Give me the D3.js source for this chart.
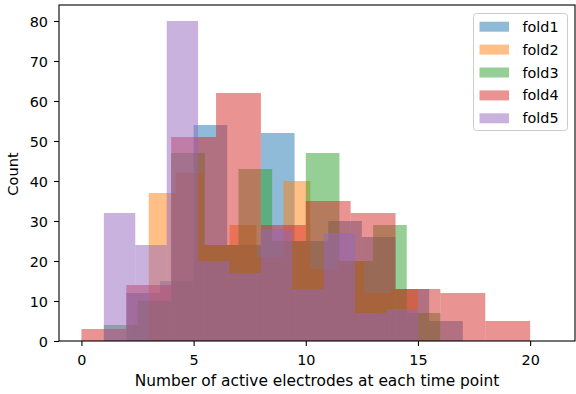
<!DOCTYPE html>
<html>
<head>
<meta charset="utf-8">
<script src="https://cdn.jsdelivr.net/npm/d3@7"></script>
<style>
  html, body { margin: 0; padding: 0; background: #fff; }
  svg { display: block; }
  text { font-family: "DejaVu Sans", sans-serif; fill: #000; }
</style>
</head>
<body>
<svg id="chart" width="576" height="394"></svg>
<script>
// ---- data ----
const seriesNames = ["fold1", "fold2", "fold3", "fold4", "fold5"];
const seriesColors = ["#1f77b4", "#ff7f0e", "#2ca02c", "#d62728", "#9467bd"];

const fold1Edges = [2, 3.5, 5, 6.5, 8, 9.5, 11, 12.5, 14, 15.5, 17];
const fold1Counts = [12, 15, 54, 24, 52, 25, 30, 26, 13, 5];

const fold2Edges = [3, 4.2, 5.4, 6.6, 7.8, 9, 10.2, 11.4, 12.6, 13.8, 15];
const fold2Counts = [37, 42, 24, 29, 21, 40, 18, 20, 12, 13];

const fold3Edges = [1, 2.5, 4, 5.5, 7, 8.5, 10, 11.5, 13, 14.5, 16];
const fold3Counts = [4, 10, 47, 24, 43, 25, 47, 20, 29, 7];

const fold4Edges = [0, 2, 4, 6, 8, 10, 12, 14, 16, 18, 20];
const fold4Counts = [3, 14, 51, 62, 29, 35, 32, 13, 12, 5];

const fold5Edges = [1, 2.4, 3.8, 5.2, 6.6, 8, 9.4, 10.8, 12.2, 13.6, 15];
const fold5Counts = [32, 24, 80, 20, 17, 28, 13, 27, 7, 8];

const xTicks = [0, 5, 10, 15, 20];
const yTicks = [0, 10, 20, 30, 40, 50, 60, 70, 80];
const xLabel = "Number of active electrodes at each time point";
const yLabel = "Count";

// ---- layout ----
const svg = d3.select("#chart");
const L = 59, R = 575, T = 5, B = 341;
const x = d3.scaleLinear().domain([-1, 22]).range([L, R]);
const y = d3.scaleLinear().domain([0, 84]).range([B, T]);

const folds = [
  [fold1Edges, fold1Counts],
  [fold2Edges, fold2Counts],
  [fold3Edges, fold3Counts],
  [fold4Edges, fold4Counts],
  [fold5Edges, fold5Counts]
];

const plot = svg.append("g");
folds.forEach(([edges, counts], k) => {
  const bins = counts.map((c, i) => ({ x0: edges[i], x1: edges[i + 1], c }));
  plot.append("g")
    .selectAll("rect")
    .data(bins)
    .join("rect")
    .attr("x", d => x(d.x0))
    .attr("width", d => x(d.x1) - x(d.x0))
    .attr("y", d => y(d.c))
    .attr("height", d => y(0) - y(d.c))
    .attr("fill", seriesColors[k])
    .attr("fill-opacity", 0.5);
});

// ---- axes ----
const fs = 14.4;
const xAxis = d3.axisBottom(x).tickValues(xTicks).tickSize(4.9).tickPadding(4).tickFormat(d3.format("d"));
const yAxis = d3.axisLeft(y).tickValues(yTicks).tickSize(4.9).tickPadding(4).tickFormat(d3.format("d"));

const gx = svg.append("g").attr("transform", `translate(0,${B})`).call(xAxis);
const gy = svg.append("g").attr("transform", `translate(${L},0)`).call(yAxis);
[gx, gy].forEach(g => {
  g.select(".domain").remove();
  g.selectAll(".tick line").attr("stroke", "#000").attr("stroke-width", 1.1);
  g.selectAll(".tick text").attr("font-size", fs).attr("font-family", "DejaVu Sans").attr("fill", "#000");
});
gx.selectAll(".tick text").attr("dy", null).attr("y", 24);
gy.selectAll(".tick text").attr("dy", null).attr("y", 5).attr("x", -11);

// spines
svg.append("rect")
  .attr("x", L).attr("y", T).attr("width", R - L).attr("height", B - T)
  .attr("fill", "none").attr("stroke", "#000").attr("stroke-width", 1.1);

// labels
svg.append("text")
  .attr("x", (L + R) / 2).attr("y", 386)
  .attr("text-anchor", "middle").attr("font-size", 15.4)
  .text(xLabel);
svg.append("text")
  .attr("transform", `translate(18,${(T + B) / 2 + 1}) rotate(-90)`)
  .attr("text-anchor", "middle").attr("font-size", 14.6)
  .text(yLabel);

// ---- legend ----
const lg = svg.append("g");
lg.append("rect")
  .attr("x", 473.5).attr("y", 13.5).attr("width", 94).attr("height", 117)
  .attr("rx", 3).attr("ry", 3)
  .attr("fill", "#fff").attr("fill-opacity", 0.8)
  .attr("stroke", "#ccc").attr("stroke-width", 1);
seriesNames.forEach((name, i) => {
  const cy = 26.7 + i * 22.9;
  lg.append("rect")
    .attr("x", 479.5).attr("y", cy - 5).attr("width", 29.5).attr("height", 10)
    .attr("fill", seriesColors[i]).attr("fill-opacity", 0.5);
  lg.append("text")
    .attr("x", 522.5).attr("y", cy + 5)
    .attr("font-size", fs)
    .text(name);
});
</script>
</body>
</html>
